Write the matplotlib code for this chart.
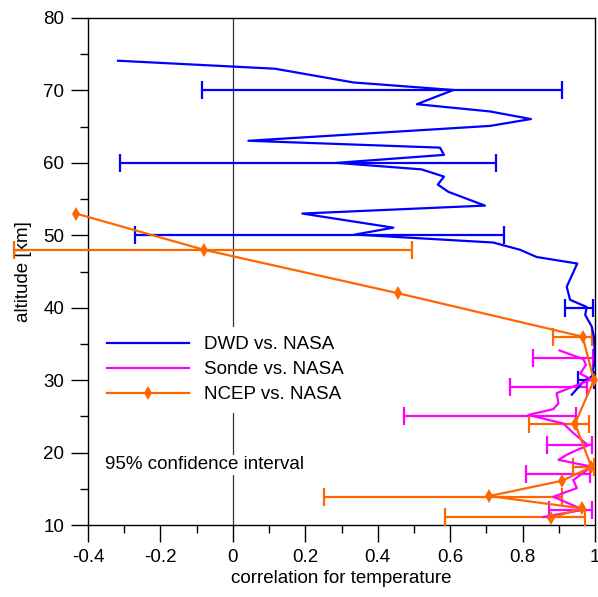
import numpy as np
import matplotlib
matplotlib.use("Agg")
import matplotlib.pyplot as plt
from matplotlib.ticker import MultipleLocator

plt.rcParams['font.family'] = ['Liberation Sans', 'DejaVu Sans']

# DWD vs. NASA profile
dwd_alt = [74.1, 73.0, 71.1, 70.06, 68.1, 67.1, 66.05, 65.1, 63.05, 62.1, 61.1, 60.0,
           59.1, 58.1, 57.0, 56.0, 54.1, 53.0, 51.05, 50.1, 49.0, 48.0, 47.0, 46.1,
           42.9, 41.1, 40.1, 39.0, 37.4, 36.0, 32.8, 30.5, 29.8, 28.0]
dwd_r = [-0.317, 0.116, 0.333, 0.609, 0.508, 0.710, 0.823, 0.710, 0.043, 0.572, 0.583, 0.287,
         0.521, 0.583, 0.566, 0.595, 0.696, 0.192, 0.443, 0.337, 0.719, 0.793, 0.839, 0.951,
         0.922, 0.931, 0.977, 0.973, 0.991, 0.997, 1.0, 0.991, 0.968, 0.936]

# Sonde vs. NASA profile
sonde_alt = [34.1, 32.9, 32.1, 30.9, 30.1, 28.2, 26.8, 26.0, 25.2, 24.0, 22.7, 21.0,
             20.35, 19.7, 19.0, 18.05, 16.2, 15.1, 13.9, 12.1, 11.1]
sonde_r = [0.902, 0.968, 0.975, 0.959, 0.99, 0.894, 0.899, 0.885, 0.816, 0.913, 0.940, 0.981,
           0.950, 0.922, 0.899, 0.991, 0.940, 0.950, 0.885, 0.968, 0.857]

# NCEP vs. NASA profile
ncep_alt = [53.0, 48.0, 42.0, 36.0, 30.0, 24.0, 18.0, 16.1, 14.0, 12.3, 11.0]
ncep_r = [-0.433, -0.08, 0.456, 0.966, 0.997, 0.945, 0.99, 0.908, 0.708, 0.963, 0.879]

# 95% confidence intervals (altitude, lower, upper)
dwd_ci_alt = [70.0, 60.0, 50.0, 40.0, 30.0]
dwd_ci_lo = [-0.086, -0.311, -0.269, 0.917, 0.954]
dwd_ci_hi = [0.910, 0.727, 0.749, 0.995, 0.997]

sonde_ci_alt = [33.0, 29.1, 25.0, 21.05, 17.1, 12.07]
sonde_ci_lo = [0.828, 0.764, 0.473, 0.868, 0.810, 0.874]
sonde_ci_hi = [0.995, 0.977, 0.948, 0.991, 0.986, 0.991]

ncep_ci_alt = [48.0, 36.0, 24.0, 18.05, 13.9, 11.05]
ncep_ci_lo = [-0.604, 0.883, 0.819, 0.938, 0.252, 0.586]
ncep_ci_hi = [0.494, 0.992, 0.984, 0.997, 0.908, 0.972]

c_dwd = "#0000ff"
c_sonde = "#ff00ff"
c_ncep = "#ff6600"
fs = 13.5

fig = plt.figure(figsize=(5.98, 5.97), dpi=100)
ax = fig.add_axes([88/598, 72/597, 507/598, 507/597])

ax.axvline(0, color="#333333", lw=0.9, zorder=1)

def ci_bars(alt, lo, hi, color, clip=True):
    lo = np.array(lo)
    hi = np.array(hi)
    mid = (lo + hi) / 2
    eb = ax.errorbar(mid, alt, xerr=(hi - lo) / 2, fmt='none', ecolor=color,
                     elinewidth=1.6, capsize=6.5, capthick=1.6, zorder=3)
    for art in eb.lines[1] + eb.lines[2]:
        art.set_clip_on(clip)

ci_bars(dwd_ci_alt, dwd_ci_lo, dwd_ci_hi, c_dwd)
ci_bars(sonde_ci_alt, sonde_ci_lo, sonde_ci_hi, c_sonde)
ci_bars(ncep_ci_alt, ncep_ci_lo, ncep_ci_hi, c_ncep, clip=False)

ax.plot(dwd_r, dwd_alt, color=c_dwd, lw=1.6, label="DWD vs. NASA", zorder=4)
ax.plot(sonde_r, sonde_alt, color=c_sonde, lw=1.6, label="Sonde vs. NASA", zorder=4)
ax.plot(ncep_r, ncep_alt, color=c_ncep, lw=1.6, marker='d', markersize=7, mew=0,
        label="NCEP vs. NASA", zorder=4, clip_on=False)

ax.set_xlim(-0.4, 1.0)
ax.set_ylim(10, 80)
ax.xaxis.set_minor_locator(MultipleLocator(0.1))
ax.yaxis.set_major_locator(MultipleLocator(10))
ax.yaxis.set_minor_locator(MultipleLocator(5))
ax.set_xticks(np.arange(-0.4, 1.01, 0.2))
ax.set_xticklabels(["-0.4", "-0.2", "0", "0.2", "0.4", "0.6", "0.8", "1"])
ax.tick_params(which='major', direction='out', length=12, width=1, labelsize=fs, pad=5)
ax.tick_params(which='minor', direction='out', length=6, width=1)
for s in ax.spines.values():
    s.set_linewidth(1)

ax.set_xlabel("correlation for temperature", fontsize=fs, labelpad=3)
ax.set_ylabel("altitude [km]", fontsize=fs, labelpad=8)

leg = ax.legend(loc="center left", bbox_to_anchor=(0.0, 0.306), fontsize=fs,
                handlelength=4.4, handletextpad=0.8, labelspacing=0.42,
                frameon=True, fancybox=False, framealpha=1, borderpad=0.5)
leg.get_frame().set_linewidth(0)
leg.get_frame().set_facecolor("white")

ax.text(-0.353, 18.3, "95% confidence interval", fontsize=fs, ha='left', va='center',
        bbox=dict(facecolor='white', edgecolor='none', pad=1), zorder=5)

fig.savefig("out.png", dpi=100)
